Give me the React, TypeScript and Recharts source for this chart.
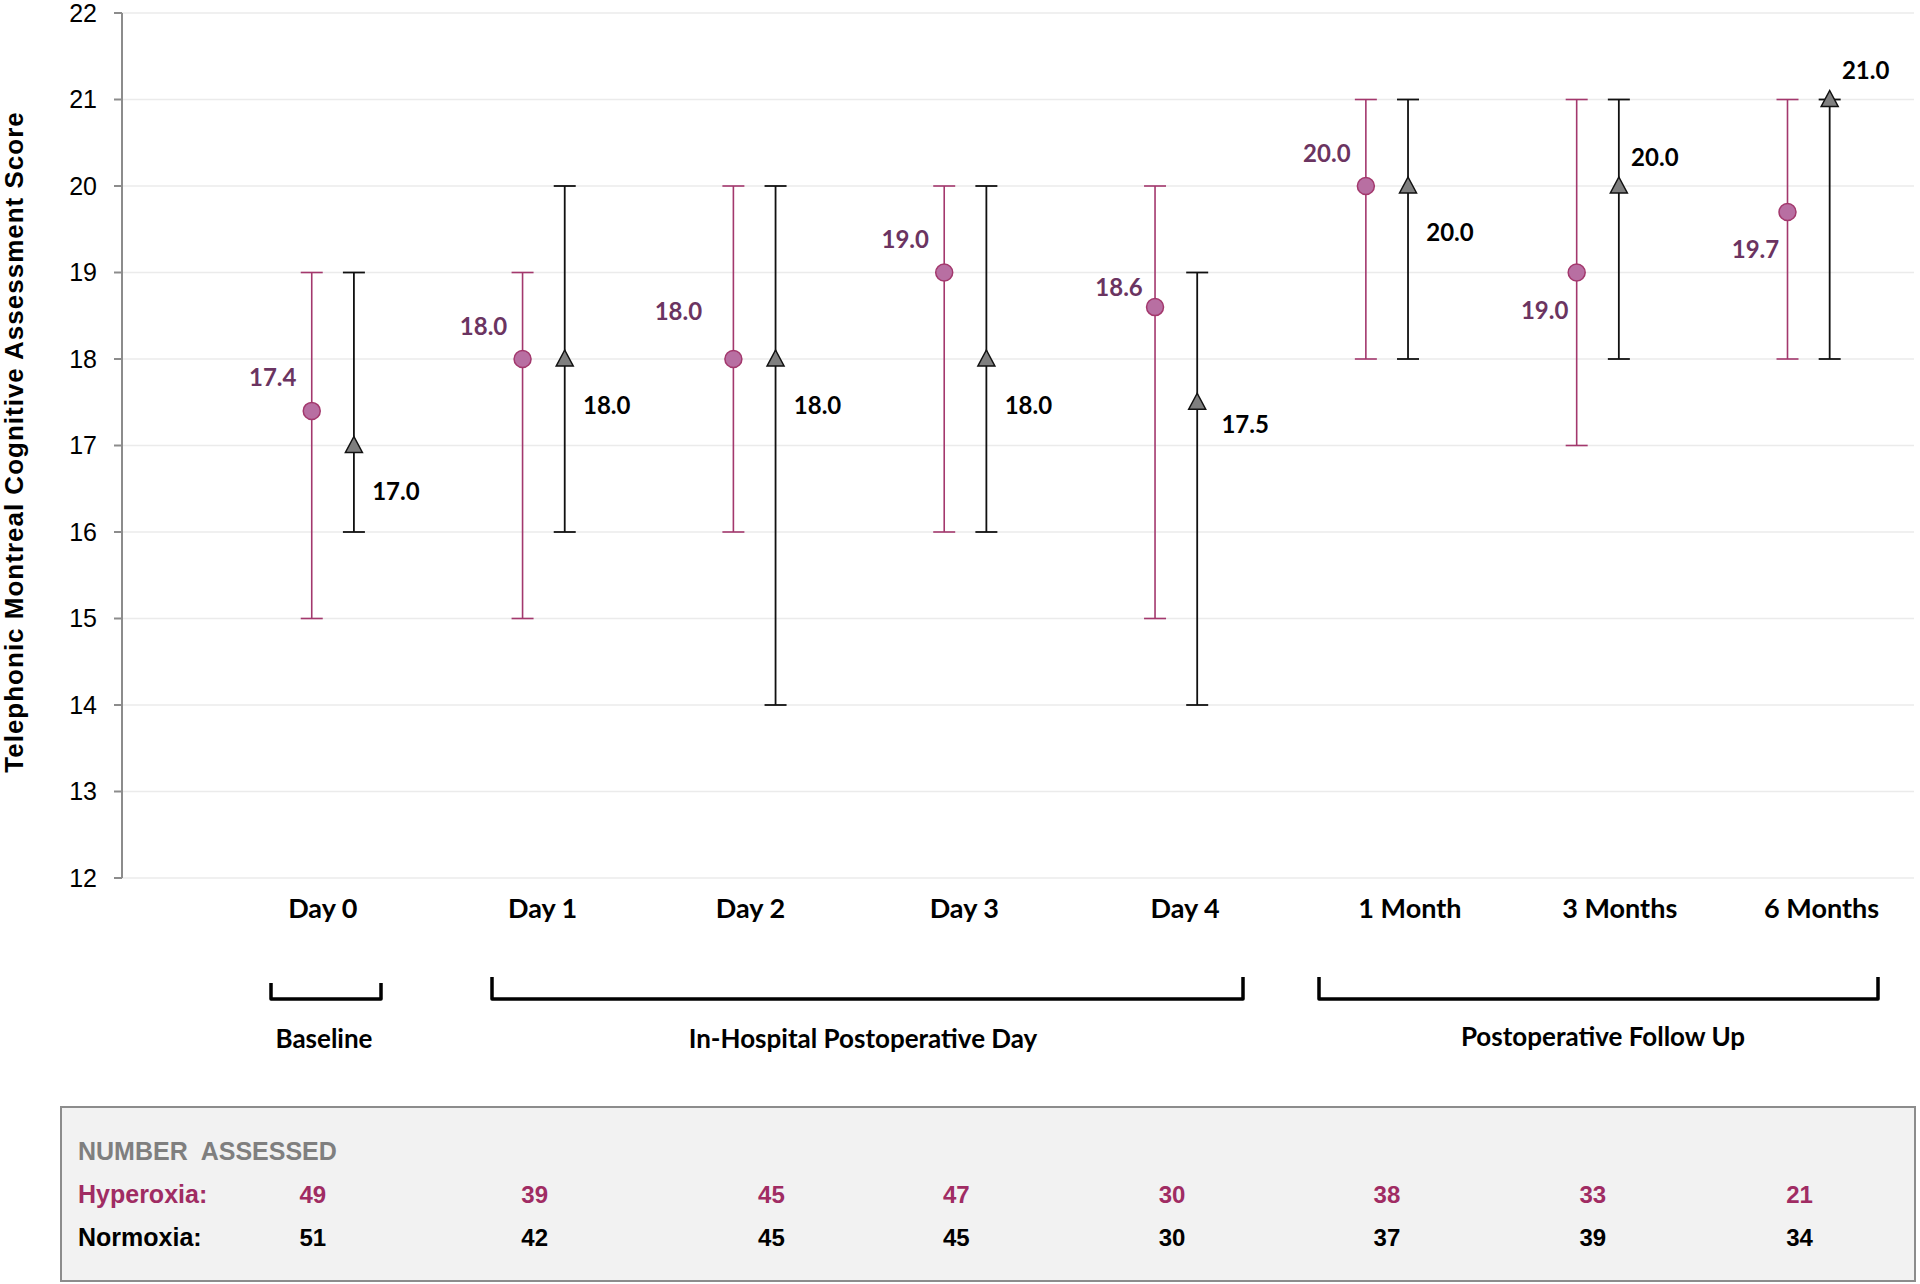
import React from 'react';
import { ScatterChart, Scatter, XAxis, YAxis, CartesianGrid, ErrorBar } from 'recharts';

// time points
const categories = ['Day 0', 'Day 1', 'Day 2', 'Day 3', 'Day 4', '1 Month', '3 Months', '6 Months'];

// hyperoxia: median and range
const hyperMedian = [17.4, 18.0, 18.0, 19.0, 18.6, 20.0, 19.0, 19.7];
const hyperLow = [15, 15, 16, 16, 15, 18, 17, 18];
const hyperHigh = [19, 19, 20, 20, 20, 21, 21, 21];

// normoxia: median and range
const normoMedian = [17.0, 18.0, 18.0, 18.0, 17.5, 20.0, 20.0, 21.0];
const normoLow = [16, 16, 14, 16, 14, 18, 18, 18];
const normoHigh = [19, 20, 20, 20, 19, 21, 21, 21];

// number assessed
const hyperN = [49, 39, 45, 47, 30, 38, 33, 21];
const normoN = [51, 42, 45, 45, 30, 37, 39, 34];

// which side of the marker each value label sits on
const hyperLabelSide = ['ul', 'ul', 'UL', 'ul', 'l', 'ul', 'dl', 'dl'];
const normoLabelSide = ['dr', 'dr', 'dr', 'dr', 'r', 'dr', 'ur', 'ur'];

const yTicks = [12, 13, 14, 15, 16, 17, 18, 19, 20, 21, 22];

// small horizontal nudges of the hand-placed text under the axis (px)
const nameNudge = [-10, -1, -4, -1, 9, 23, 22, 13];
const countNudge = [-20, -9, 17, -9, -4, 0, -5, -9];

const HYPER = '#a3386d';
const HYPER_TEXT = '#6b3461';
const SANS = "'Liberation Sans', Arial, sans-serif";
const LABEL_FONT = "Lato, 'Open Sans', sans-serif";

const labelOffset: Record<string, [number, number]> = {
  ul: [-39, -34],
  UL: [-55, -49],
  l: [-36, -21],
  dr: [42, 45],
  r: [48, 21],
  dl: [-32, 37],
  ur: [36, -30],
};

const hyperData = categories.map((name, i) => ({
  name,
  x: i + 1 - 0.1,
  y: hyperMedian[i],
  err: [hyperMedian[i] - hyperLow[i], hyperHigh[i] - hyperMedian[i]],
  side: hyperLabelSide[i],
}));

const normoData = categories.map((name, i) => ({
  name,
  x: i + 1 + 0.1,
  y: normoMedian[i],
  err: [normoMedian[i] - normoLow[i], normoHigh[i] - normoMedian[i]],
  side: normoLabelSide[i],
}));

const ValueLabel = ({ x, y, color, value }: { x: number; y: number; color: string; value: number }) => (
  <text
    x={x}
    y={y}
    textAnchor="middle"
    dominantBaseline="central"
    fill={color}
    fontFamily={LABEL_FONT}
    fontWeight={700}
    fontSize={24}
  >
    {value.toFixed(1)}
  </text>
);

const HyperDot = (props: any) => {
  const { cx, cy, payload } = props;
  const [dx, dy] = labelOffset[payload.side];
  return (
    <g>
      <circle cx={cx} cy={cy} r={8.5} fill="#b86fa2" stroke={HYPER} strokeWidth={1.5} />
      <ValueLabel x={cx + dx} y={cy + dy} color={HYPER_TEXT} value={payload.y} />
    </g>
  );
};

const NormoTriangle = (props: any) => {
  const { cx, cy, payload } = props;
  const [dx, dy] = labelOffset[payload.side];
  const pts = `${cx},${cy - 9} ${cx - 8.5},${cy + 7} ${cx + 8.5},${cy + 7}`;
  return (
    <g>
      <polygon points={pts} fill="#7f7f7f" stroke="#111" strokeWidth={1.5} />
      <ValueLabel x={cx + dx} y={cy + dy} color="#000" value={payload.y} />
    </g>
  );
};

// category name plus the two "number assessed" counts, all hung off the x scale
const CategoryTick = (props: any) => {
  const { x, y, payload } = props;
  const i = Math.round(payload.value) - 1;
  if (i < 0 || i >= categories.length) return null;
  return (
    <g>
      <text x={x + nameNudge[i]} y={y + 29} textAnchor="middle" dominantBaseline="central" fill="#000" fontFamily={LABEL_FONT} fontWeight={700} fontSize={27}>
        {categories[i]}
      </text>
      <text x={x + countNudge[i]} y={y + 316} textAnchor="middle" dominantBaseline="central" fill="#a02c63" fontFamily={SANS} fontWeight={700} fontSize={24}>
        {hyperN[i]}
      </text>
      <text x={x + countNudge[i]} y={y + 359} textAnchor="middle" dominantBaseline="central" fill="#000" fontFamily={SANS} fontWeight={700} fontSize={24}>
        {normoN[i]}
      </text>
    </g>
  );
};

const groups = ['Baseline', 'In-Hospital Postoperative Day', 'Postoperative Follow Up'];
const bracketLayout = [
  { x1: 271, x2: 381, top: 983, bottom: 999, labelX: 324, labelY: 1038 },
  { x1: 492, x2: 1243, top: 977, bottom: 999, labelX: 863, labelY: 1038 },
  { x1: 1319, x2: 1878, top: 977, bottom: 999, labelX: 1603, labelY: 1036 },
];

export default function App() {
  return (
    <div style={{ position: 'absolute', left: 0, top: 0, width: 1920, height: 1284, background: '#fff', overflow: 'hidden' }}>
      {/* number-assessed panel background */}
      <div
        style={{
          position: 'absolute',
          left: 60,
          top: 1106,
          width: 1852,
          height: 172,
          background: '#f2f2f2',
          border: '2px solid #8c8c8c',
        }}
      />
      <div style={{ position: 'absolute', left: 0, top: 0 }}>
        <ScatterChart width={1920} height={1284} margin={{ top: 13, right: 6, bottom: 376, left: 0 }}>
          <CartesianGrid vertical={false} stroke="#ebebeb" strokeWidth={1.5} />
          <XAxis
            type="number"
            dataKey="x"
            domain={[0, 8.5]}
            ticks={[1, 2, 3, 4, 5, 6, 7, 8]}
            interval={0}
            axisLine={false}
            tickLine={false}
            tickSize={0}
            tickMargin={0}
            height={30}
            tick={<CategoryTick />}
          />
          <YAxis
            type="number"
            dataKey="y"
            domain={[12, 22]}
            ticks={yTicks}
            interval={0}
            width={122}
            axisLine={{ stroke: '#8c8c8c', strokeWidth: 2 }}
            tickLine={{ stroke: '#8c8c8c', strokeWidth: 2 }}
            tickSize={8}
            tickMargin={17}
            tick={{ fill: '#000', fontSize: 25, fontFamily: SANS }}
          />
          <Scatter name="Hyperoxia" data={hyperData} shape={<HyperDot />} isAnimationActive={false}>
            <ErrorBar dataKey="err" direction="y" width={11} stroke={HYPER} strokeWidth={1.6} />
          </Scatter>
          <Scatter name="Normoxia" data={normoData} shape={<NormoTriangle />} isAnimationActive={false}>
            <ErrorBar dataKey="err" direction="y" width={11} stroke="#111" strokeWidth={1.8} />
          </Scatter>
        </ScatterChart>
      </div>
      <svg width={1920} height={1284} style={{ position: 'absolute', left: 0, top: 0, pointerEvents: 'none' }}>
        <text
          transform="translate(23,442) rotate(-90)"
          textAnchor="middle"
          fill="#000"
          fontFamily={SANS}
          fontWeight={700}
          fontSize={26}
          letterSpacing={1}
        >
          Telephonic Montreal Cognitive Assessment Score
        </text>
        {groups.map((g, i) => {
          const b = bracketLayout[i];
          return (
            <g key={g}>
              <path
                d={`M${b.x1},${b.top} L${b.x1},${b.bottom} L${b.x2},${b.bottom} L${b.x2},${b.top}`}
                fill="none"
                stroke="#000"
                strokeWidth={3.5}
                strokeLinejoin="round"
              />
              <text x={b.labelX} y={b.labelY} textAnchor="middle" dominantBaseline="central" fill="#000" fontFamily={LABEL_FONT} fontWeight={700} fontSize={26}>
                {g}
              </text>
            </g>
          );
        })}
        <text x={78} y={1151} dominantBaseline="central" fill="#7f7f7f" fontFamily={SANS} fontWeight={700} fontSize={25}>
          NUMBER&#160; ASSESSED
        </text>
        <text x={78} y={1194} dominantBaseline="central" fill="#a02c63" fontFamily={SANS} fontWeight={700} fontSize={25}>
          Hyperoxia:
        </text>
        <text x={78} y={1237} dominantBaseline="central" fill="#000" fontFamily={SANS} fontWeight={700} fontSize={25}>
          Normoxia:
        </text>
      </svg>
    </div>
  );
}
